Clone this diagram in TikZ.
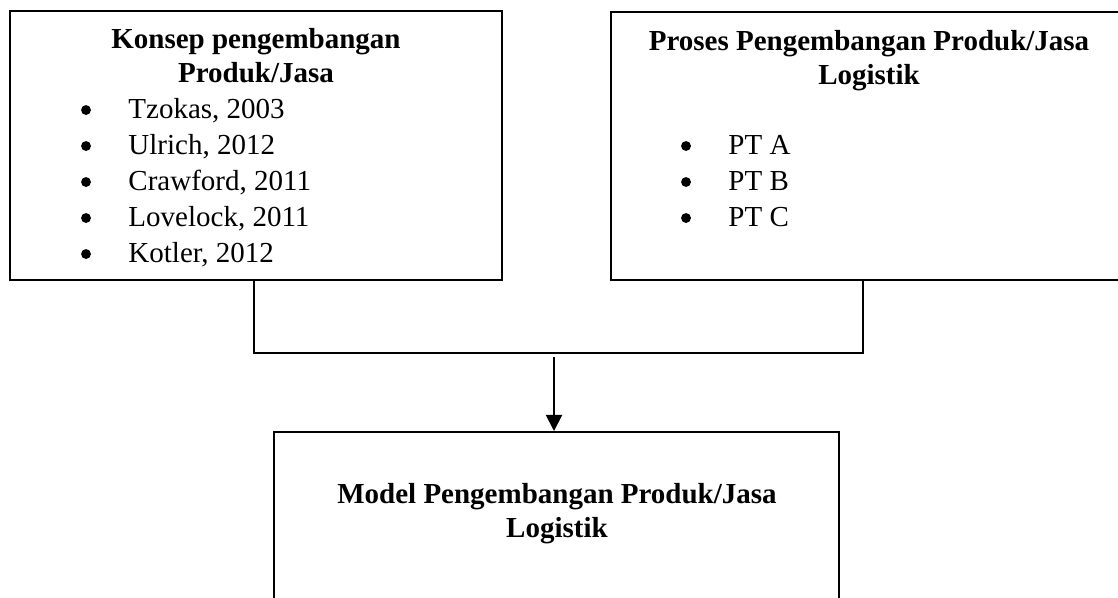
\documentclass[tikz,border=0pt]{standalone}
\usepackage{fontspec}
\setmainfont{Liberation Serif}
\usetikzlibrary{arrows.meta,positioning}

\begin{document}
\begin{tikzpicture}[x=0.4138pt,y=-0.4138pt,
  every node/.style={font=\fontsize{12}{13.7}\selectfont},
  box/.style={draw,line width=0.8pt,inner sep=0pt},
  title/.style={font=\fontsize{12}{13.7}\selectfont\bfseries,align=center,anchor=base,inner sep=0pt},
  entry/.style={anchor=base west,inner sep=0pt},
  dot/.style={circle,fill,inner sep=0pt,minimum size=4.1pt},
  line/.style={line width=0.8pt}]
  \useasboundingbox (0,0) rectangle (1118,597);
  \clip (0,0) rectangle (1118,597);

  % the three boxes
  \node[box,minimum width=203.6pt,minimum height=111.3pt] (konsep) at (256,145.5) {};
  \node[box,minimum width=213.5pt,minimum height=110.9pt] (proses) at (869,146) {};
  \node[box,minimum width=233.8pt,minimum height=86.1pt]  (model)  at (556.5,536) {};

  % titles (base = last line)
  \node[title] (konsepT) at (256,82) {Konsep pengembangan\\Produk/Jasa};
  \node[title] (prosesT) at (869,84) {Proses Pengembangan Produk/Jasa\\Logistik};
  \node[title] (modelT)  at (557,537) {Model Pengembangan Produk/Jasa\\Logistik};

  % lists
  \foreach \txt [count=\i] in {{Tzokas, 2003},{Ulrich, 2012},{Crawford, 2011},{Lovelock, 2011},{Kotler, 2012}}{
    \node[dot]   (kd\i) at (86,74+36*\i) {};
    \node[entry] (ke\i) at (128,82+36*\i) {\txt};
  }
  \foreach \txt [count=\i] in {PT A,PT B,PT C}{
    \node[dot]   (pd\i) at (686,110+36*\i) {};
    \node[entry] (pe\i) at (728,118+36*\i) {\txt};
  }

  % connectors
  \coordinate (kBottom) at (254,280);
  \coordinate (pBottom) at (863,280);
  \coordinate (join) at (554,357);
  \draw[line] (kBottom) -- ++(0,73) -| (pBottom);
  \draw[line,-{Triangle[length=6.7pt,width=6.7pt]}] (join) -- (join |- model.north);
\end{tikzpicture}
\end{document}
